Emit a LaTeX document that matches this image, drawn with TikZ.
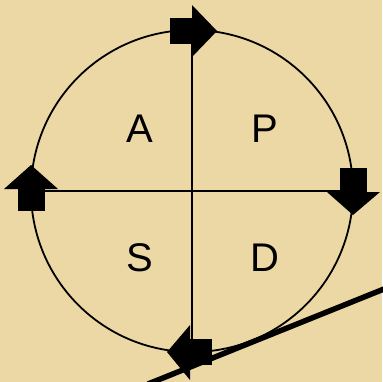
\documentclass[tikz,border=0pt]{standalone}
\usepackage{fontspec}
\setmainfont{Liberation Sans}
\definecolor{papyrus}{RGB}{236,216,164}
\begin{document}
\begin{tikzpicture}[x=1pt,y=-1pt,
  ring/.style={draw=black,line width=1.8pt},
  axis/.style={draw=black,line width=1.3pt},
  blockarrow/.style={fill=black,draw=none},
  letter/.style={font=\fontsize{40}{40}\selectfont,inner sep=0pt,anchor=center},
  slope/.style={draw=black,line width=5.5pt}]
\fill[papyrus] (0,0) rectangle (382,382);
\useasboundingbox (0,0) rectangle (382,382);
\coordinate (c) at (192,191);
\coordinate (top) at (192,31);
\coordinate (bot) at (192,352);
\coordinate (lft) at (31,191);
\coordinate (rgt) at (353,191);
\draw[ring] (c) circle[radius=161];
\draw[axis] (top) -- (bot);
\draw[axis] (lft) -- (rgt);
% slope line
\coordinate (s1) at (148,384);
\coordinate (s2) at (384,289);
\draw[slope] (s1) -- (s2);
% top arrow (right)
\fill[blockarrow] (170,18) rectangle (193,44);
\fill[blockarrow] (192,5) -- (217,31) -- (192,57) -- cycle;
% right arrow (down)
\fill[blockarrow] (340,168) rectangle (367,193);
\fill[blockarrow] (327,192) -- (380,192) -- (353,215) -- cycle;
% bottom arrow (left)
\fill[blockarrow] (189,339) rectangle (212,365);
\fill[blockarrow] (190,325) -- (190,380) -- (167,352) -- cycle;
% left arrow (up)
\fill[blockarrow] (18,188) rectangle (45,211);
\fill[blockarrow] (4,189) -- (58,189) -- (31,165) -- cycle;
% letters
\node[letter] (A) at (140,129) {A};
\node[letter] (P) at (265,129) {P};
\node[letter] (S) at (140,258) {S};
\node[letter] (D) at (265,258) {D};
\end{tikzpicture}
\end{document}
